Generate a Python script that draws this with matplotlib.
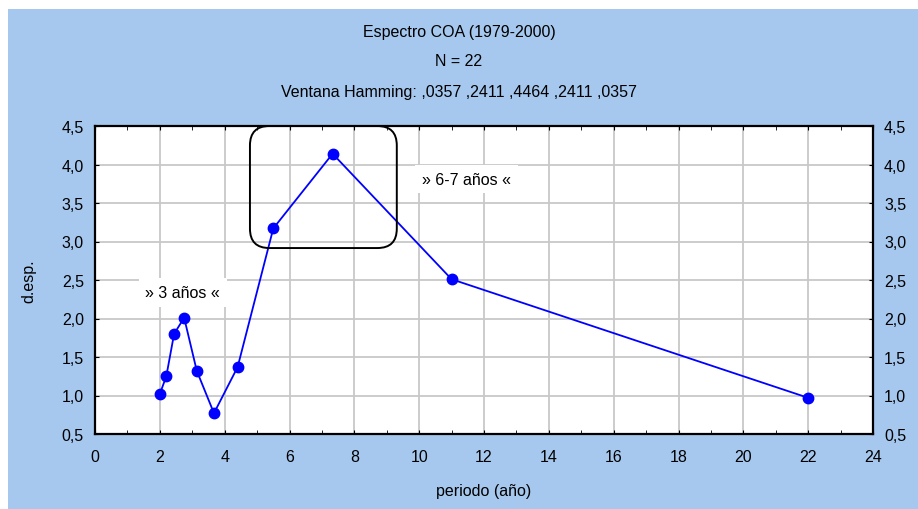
import matplotlib
matplotlib.use("Agg")
import matplotlib.pyplot as plt
from matplotlib.patches import FancyBboxPatch, Rectangle
from matplotlib.ticker import MultipleLocator, FuncFormatter

plt.rcParams["font.family"] = ["Liberation Sans", "DejaVu Sans"]

# spectrum values
periodo = [2.0, 2.2, 2.44, 2.75, 3.14, 3.67, 4.4, 5.5, 7.33, 11.0, 22.0]
densidad = [1.02, 1.25, 1.80, 2.01, 1.32, 0.77, 1.37, 3.17, 4.14, 2.51, 0.97]

titulo = ["Espectro COA (1979-2000)", "N = 22",
          "Ventana Hamming: ,0357 ,2411 ,4464 ,2411 ,0357"]
etiquetas = ["» 3 años «", "» 6-7 años «"]

fig = plt.figure(figsize=(9.18, 5.10), dpi=100)
fig.patch.set_facecolor("white")
fig.patches.append(Rectangle((8 / 918, 0), 1 - 8 / 918, 1 - 10 / 510,
                             transform=fig.transFigure, facecolor="#a6c8ee",
                             edgecolor="none", zorder=-10))

ax = fig.add_axes([95 / 918, 1 - 435 / 510, 778 / 918, 308 / 510])
ax.set_facecolor("white")

ax.plot(periodo, densidad, color="#0000ff", lw=1.3, marker="o",
        markersize=7.5, zorder=5)

ax.set_xlim(0, 24)
ax.set_ylim(0.5, 4.5)
ax.xaxis.set_major_locator(MultipleLocator(2))
ax.xaxis.set_minor_locator(MultipleLocator(1))
ax.yaxis.set_major_locator(MultipleLocator(0.5))
coma = FuncFormatter(lambda v, p: f"{v:.1f}".replace(".", ","))
ax.yaxis.set_major_formatter(coma)
ax.grid(True, which="major", color="#c8c8c8", lw=1.3, zorder=0)
ax.tick_params(axis="x", which="both", direction="in", top=True,
               length=3, labelsize=11.5, pad=10.5)
ax.tick_params(axis="y", which="both", direction="in", right=True,
               labelright=True, length=3, labelsize=11.5, pad=8)
for s in ax.spines.values():
    s.set_linewidth(1.6)

ax.set_xlabel("periodo (año)", fontsize=11.5, labelpad=14)
ax.set_ylabel("d.esp.", fontsize=11.5, labelpad=18)

for i, t in enumerate(titulo):
    fig.text(0.5, 1 - (32 + 30 * i) / 510, t, ha="center", va="center",
             fontsize=11.5)

# rounded frame around the 6-7 year peak
ax.add_patch(FancyBboxPatch((4.78, 2.915), 4.53, 1.585,
                            boxstyle="round,pad=0,rounding_size=0.6",
                            mutation_aspect=0.42, facecolor="none",
                            edgecolor="black", lw=1.4, zorder=6, clip_on=False))

ax.text(2.71, 2.34, etiquetas[0], ha="center", va="center", fontsize=11.5,
        zorder=7, bbox=dict(facecolor="white", edgecolor="none", pad=5))
ax.text(11.47, 3.81, etiquetas[1], ha="center", va="center", fontsize=11.5,
        zorder=7, bbox=dict(facecolor="white", edgecolor="none", pad=5))

fig.savefig("out.png", dpi=100, facecolor=fig.get_facecolor())
